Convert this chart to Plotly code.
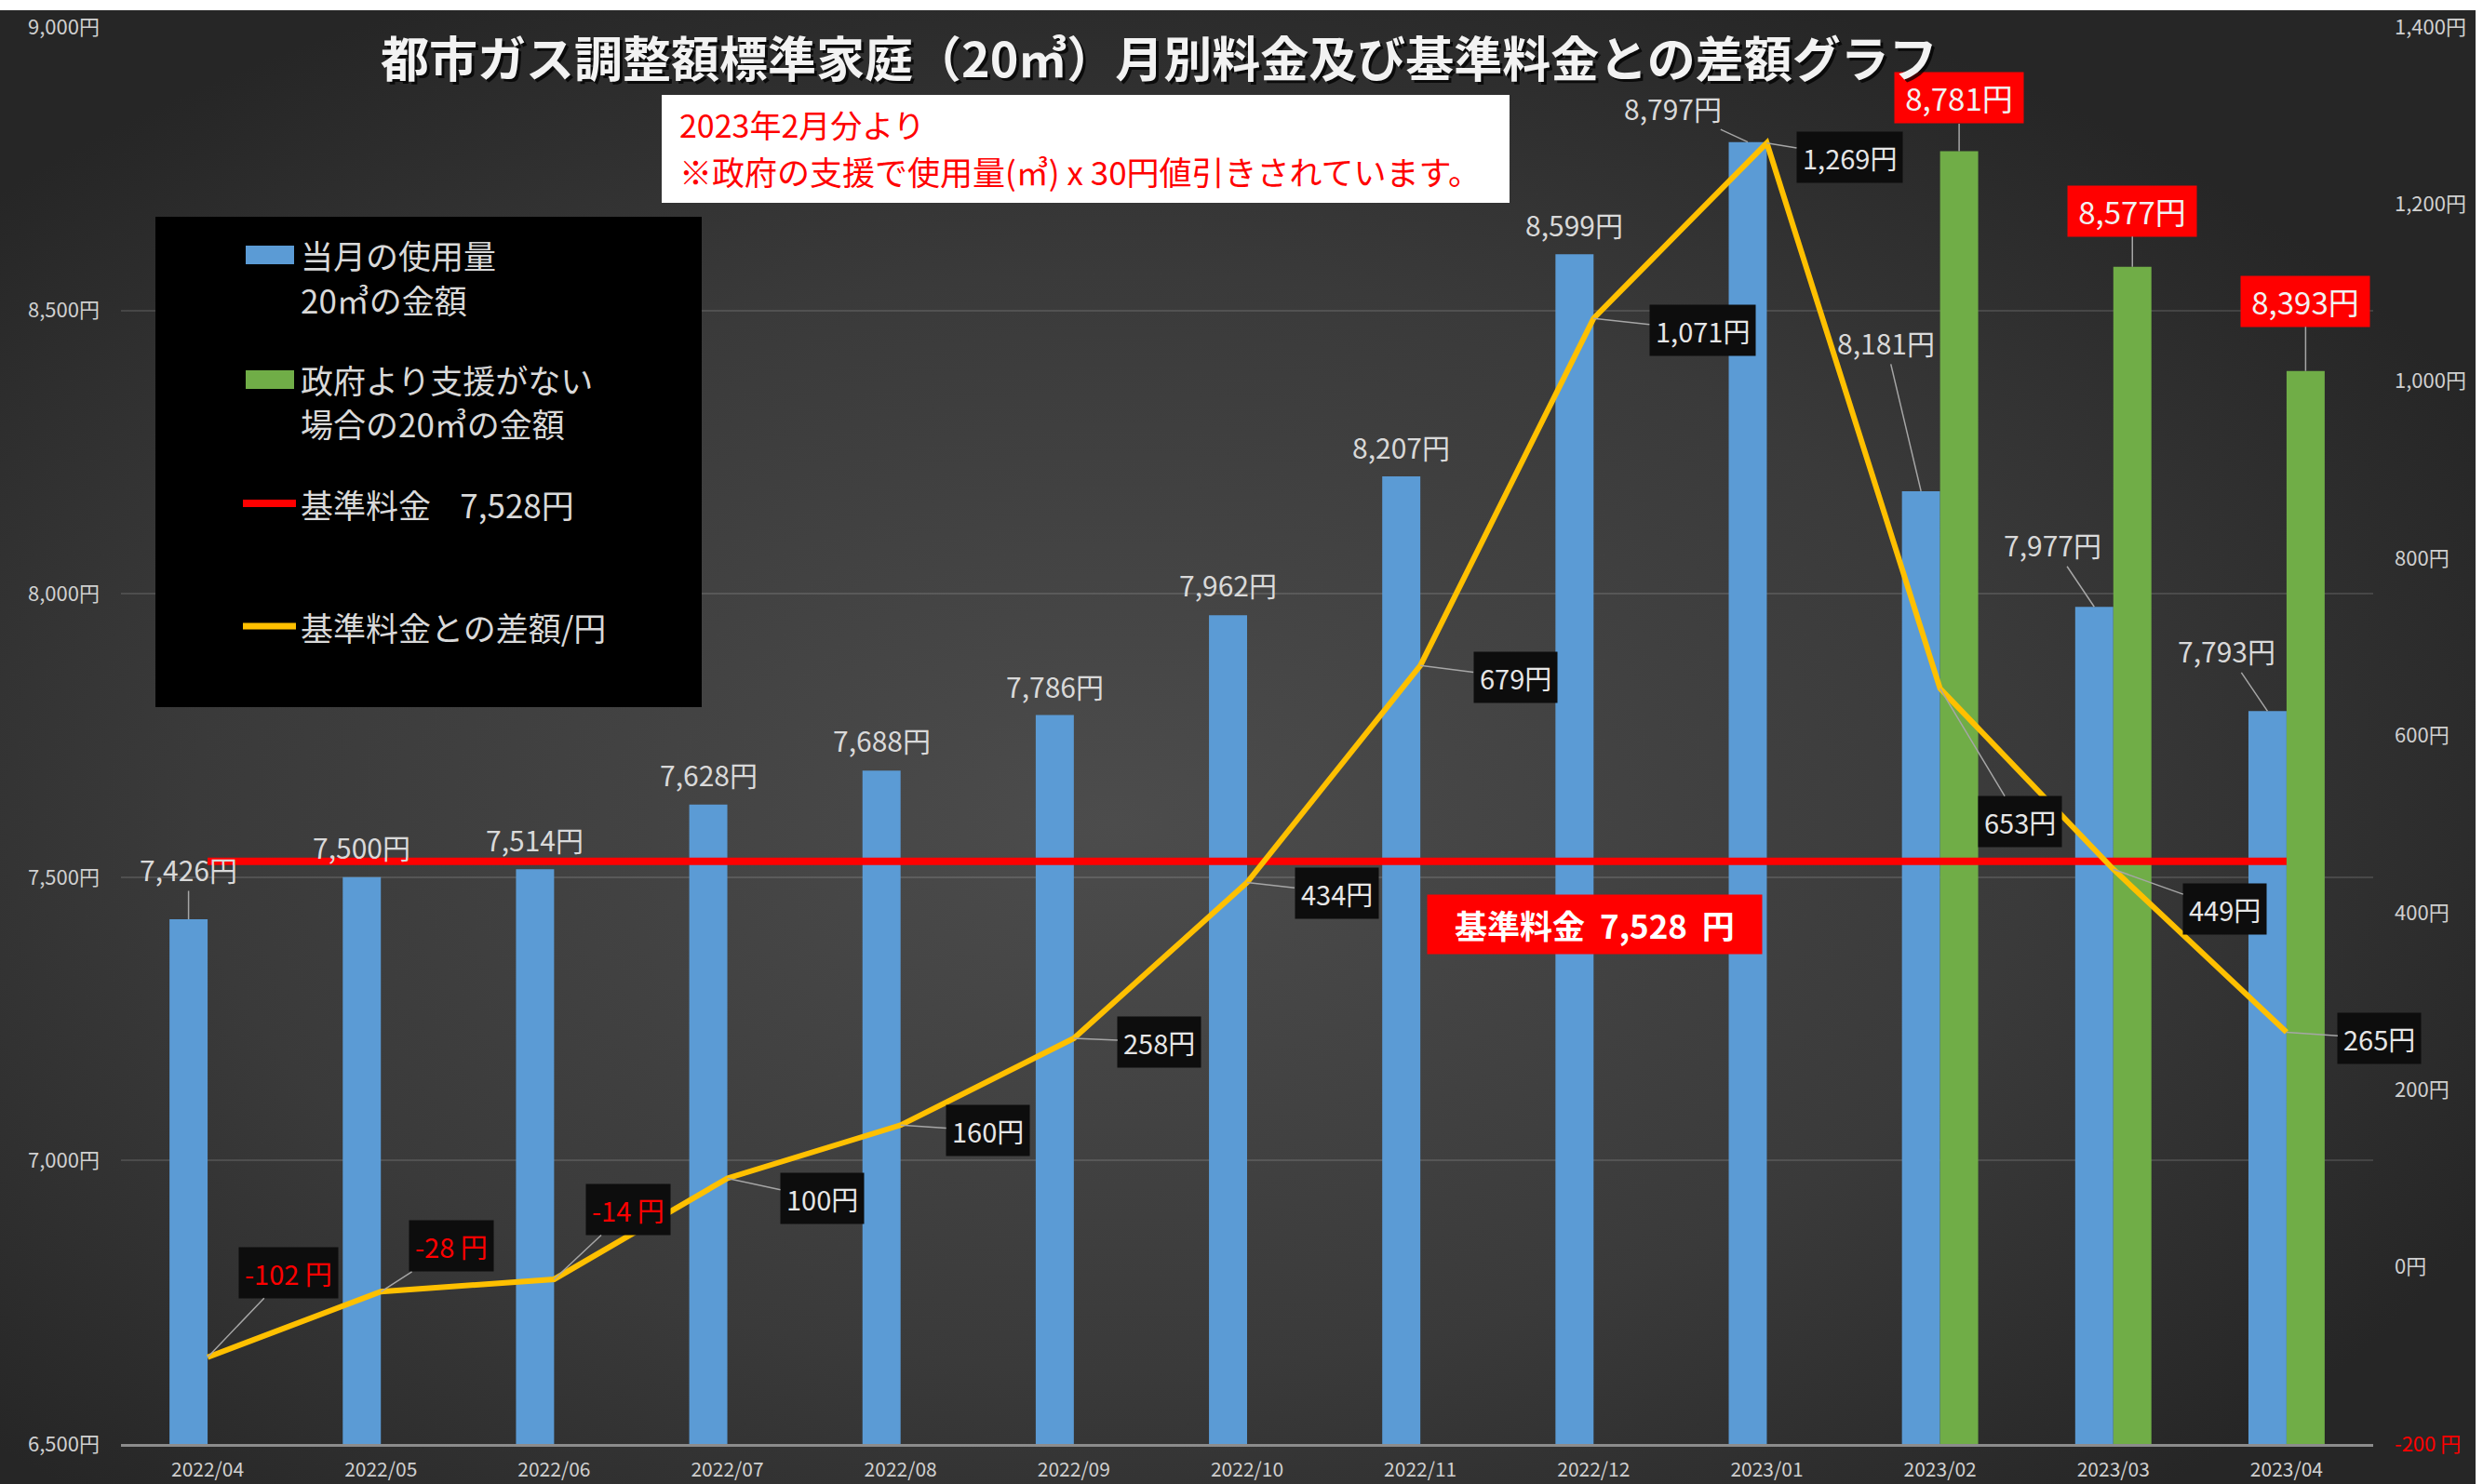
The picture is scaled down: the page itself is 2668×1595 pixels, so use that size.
import base64
import plotly.graph_objects as go

# ---------------- data ----------------
months = ["2022/04", "2022/05", "2022/06", "2022/07", "2022/08", "2022/09", "2022/10",
          "2022/11", "2022/12", "2023/01", "2023/02", "2023/03", "2023/04"]
usage_cost = [7426, 7500, 7514, 7628, 7688, 7786, 7962, 8207, 8599, 8797, 8181, 7977, 7793]
no_support_cost = [None, None, None, None, None, None, None, None, None, None, 8781, 8577, 8393]
base_fee = [7528, 7528, 7528, 7528, 7528, 7528, 7528, 7528, 7528, 7528, 7528, 7528, 7528]
diff_from_base = [-102, -28, -14, 100, 160, 258, 434, 679, 1071, 1269, 653, 449, 265]
left_ticks = [6500, 7000, 7500, 8000, 8500, 9000]
right_ticks = [-200, 0, 200, 400, 600, 800, 1000, 1200, 1400]

# ---------------- geometry ----------------
W, H = 2668, 1595
L, R, T, B = 130, 118, 29, 43
PW, PH = W - L - R, H - T - B
FONT = "Noto Sans CJK JP"


def px(xp):
    return (xp - L) / PW


def py(yp):
    return (H - B - yp) / PH


# ---------------- background gradient ----------------
svg = ('<svg xmlns="http://www.w3.org/2000/svg" width="2660" height="1584" '
       'viewBox="0 0 2660 1584" preserveAspectRatio="none"><defs>'
       '<radialGradient id="g" cx="0.45" cy="0.55" r="0.62">'
       '<stop offset="0" stop-color="#4c4c4c"/><stop offset="0.6" stop-color="#3a3a3a"/>'
       '<stop offset="1" stop-color="#262626"/></radialGradient></defs>'
       '<rect width="2660" height="1584" fill="url(#g)"/></svg>')
bg_src = "data:image/svg+xml;base64," + base64.b64encode(svg.encode()).decode()

fig = go.Figure()
fig.add_trace(go.Bar(x=months, y=usage_cost, marker=dict(color="#5b9bd5", line_width=0),
                     offsetgroup="a", name="当月の使用量20㎥の金額"))
fig.add_trace(go.Bar(x=months, y=no_support_cost, marker=dict(color="#70ad47", line_width=0),
                     offsetgroup="b", name="政府より支援がない場合の20㎥の金額"))
fig.add_trace(go.Scatter(x=months, y=base_fee, mode="lines",
                         line=dict(color="#ff0000", width=8), name="基準料金 7,528円"))
fig.add_trace(go.Scatter(x=months, y=diff_from_base, mode="lines", yaxis="y2",
                         line=dict(color="#ffc000", width=6), name="基準料金との差額/円"))

ann = []

# bar labels (blue)
bar_off = [(0, -54, True), (0, -33, False), (0, -32, False), (0, -33, False), (0, -33, False),
           (0, -32, False), (0, -33, False), (0, -32, False), (0, -32, False), (-80, -37, True),
           (-38, -160, True), (-45, -67, True), (-44, -65, True)]
for i, v in enumerate(usage_cost):
    ax_, ay_, lead = bar_off[i]
    ann.append(dict(x=i - 0.11, y=v, xref="x", yref="y", text=f"{v:,}円",
                    showarrow=True, arrowhead=0, arrowwidth=1.5,
                    arrowcolor="#a6a6a6" if lead else "rgba(0,0,0,0)",
                    ax=ax_, ay=ay_, font=dict(family=FONT, size=30, color="#d9d9d9")))

# bar labels (green)
green_off = {10: (0, -57), 11: (0, -60), 12: (0, -75)}
for i, v in enumerate(no_support_cost):
    if v is None:
        continue
    ax_, ay_ = green_off[i]
    ann.append(dict(x=i + 0.11, y=v, xref="x", yref="y", text=f"{v:,}円",
                    showarrow=True, arrowhead=0, arrowwidth=1.5, arrowcolor="#a6a6a6",
                    ax=ax_, ay=ay_, bgcolor="#ff0000", borderpad=3, width=132,
                    font=dict(family=FONT, size=33, color="#f2f2f2")))

# line labels
line_off = [(87, -91), (76, -49), (80, -75), (102, 22), (94, 6), (92, 4), (96, 11),
            (102, 13), (117, 13), (89, 15), (86, 143), (120, 43), (100, 7)]
for i, v in enumerate(diff_from_base):
    ax_, ay_ = line_off[i]
    neg = v < 0
    ann.append(dict(x=months[i], y=v, xref="x", yref="y2",
                    text=(f"{v:,} 円" if neg else f"{v:,}円"),
                    showarrow=True, arrowhead=0, arrowwidth=1.5, arrowcolor="#a6a6a6",
                    ax=ax_, ay=ay_, bgcolor="#0d0d0d", borderpad=6,
                    font=dict(family=FONT, size=29, color="#ff0000" if neg else "#e6e6e6")))

# title with shadow
title = "都市ガス調整額標準家庭（20㎥）月別料金及び基準料金との差額グラフ"
for col, sx, sy in [("rgba(0,0,0,0.75)", 3, -3), ("#f2f2f2", 0, 0)]:
    ann.append(dict(x=px(1245), y=py(61), xref="paper", yref="paper", text=f"<b>{title}</b>",
                    showarrow=False, xshift=sx, yshift=sy, xanchor="center", yanchor="middle",
                    font=dict(family=FONT, size=52, color=col)))

# note box text
ann.append(dict(x=px(728), y=py(134), xref="paper", yref="paper", text="2023年2月分より",
                showarrow=False, xanchor="left", yanchor="middle",
                font=dict(family=FONT, size=34, color="#ff0000")))
ann.append(dict(x=px(728), y=py(184), xref="paper", yref="paper",
                text="※政府の支援で使用量(㎥) x 30円値引きされています。",
                showarrow=False, xanchor="left", yanchor="middle",
                font=dict(family=FONT, size=35, color="#ff0000")))

# base fee red label
ann.append(dict(x=px(1713), y=py(993), xref="paper", yref="paper",
                text="<b>基準料金\u00a0\u00a07,528\u00a0\u00a0円</b>", showarrow=False,
                xanchor="center", yanchor="middle",
                bgcolor="#ff0000", width=357, height=61,
                font=dict(family=FONT, size=35, color="#ffffff")))

# legend texts
leg_txt = [("当月の使用量", 274), ("20㎥の金額", 322), ("政府より支援がない", 407),
           ("場合の20㎥の金額", 454), ("基準料金\u00a0\u00a0\u00a0\u00a07,528円", 541),
           ("基準料金との差額/円", 673)]
for t, yy in leg_txt:
    ann.append(dict(x=px(321), y=py(yy), xref="paper", yref="paper", text=t, showarrow=False,
                    xanchor="left", yanchor="middle",
                    font=dict(family=FONT, size=35, color="#d9d9d9")))

shapes = [
    # note box
    dict(type="rect", xref="paper", yref="paper", x0=px(711), x1=px(1622), y0=py(218), y1=py(102),
         fillcolor="#ffffff", line_width=0, layer="above"),
    # legend box
    dict(type="rect", xref="paper", yref="paper", x0=px(167), x1=px(754), y0=py(760), y1=py(233),
         fillcolor="#000000", line_width=0, layer="above"),
    dict(type="rect", xref="paper", yref="paper", x0=px(264), x1=px(316), y0=py(284), y1=py(264),
         fillcolor="#5b9bd5", line_width=0, layer="above"),
    dict(type="rect", xref="paper", yref="paper", x0=px(264), x1=px(316), y0=py(418), y1=py(398),
         fillcolor="#70ad47", line_width=0, layer="above"),
    dict(type="line", xref="paper", yref="paper", x0=px(261), x1=px(318), y0=py(541), y1=py(541),
         line=dict(color="#ff0000", width=8), layer="above"),
    dict(type="line", xref="paper", yref="paper", x0=px(261), x1=px(318), y0=py(673), y1=py(673),
         line=dict(color="#ffc000", width=7), layer="above"),
]

fig.update_layout(
    width=W, height=H,
    margin=dict(l=L, r=R, t=T, b=B, autoexpand=False),
    paper_bgcolor="#ffffff", plot_bgcolor="rgba(0,0,0,0)",
    barmode="group", bargap=0.56, bargroupgap=0,
    showlegend=False,
    font=dict(family=FONT, color="#d9d9d9"),
    images=[dict(source=bg_src, xref="paper", yref="paper", x=px(0), y=py(11),
                 sizex=2660 / PW, sizey=1584 / PH, xanchor="left", yanchor="top",
                 sizing="stretch", layer="below")],
    xaxis=dict(type="category", range=[-0.5, 12.5], showgrid=False, showline=True,
               linecolor="#8c8c8c", linewidth=3, ticks="", ticklabelstandoff=7,
               tickfont=dict(family=FONT, size=21, color="#d0d0d0")),
    yaxis=dict(range=[6500, 9000], tickvals=left_ticks, ticktext=[f"{v:,}円" for v in left_ticks],
               showgrid=True, gridcolor="rgba(255,255,255,0.12)", gridwidth=2, zeroline=False,
               showline=False, ticks="", ticklabelstandoff=22,
               tickfont=dict(family=FONT, size=22, color="#d0d0d0")),
    yaxis2=dict(range=[-200, 1400], overlaying="y", side="right", tickvals=right_ticks,
                ticktext=[("<span style='color:#ff0000'>-200 円</span>" if v < 0 else f"{v:,}円")
                          for v in right_ticks],
                showgrid=False, zeroline=False, showline=False, ticks="", ticklabelstandoff=22,
                tickfont=dict(family=FONT, size=22, color="#d0d0d0")),
    annotations=ann,
    shapes=shapes,
)

fig.write_html("out.html", config={"displayModeBar": False},
               post_script="document.body.style.margin='0px';document.body.style.overflow='hidden';")
